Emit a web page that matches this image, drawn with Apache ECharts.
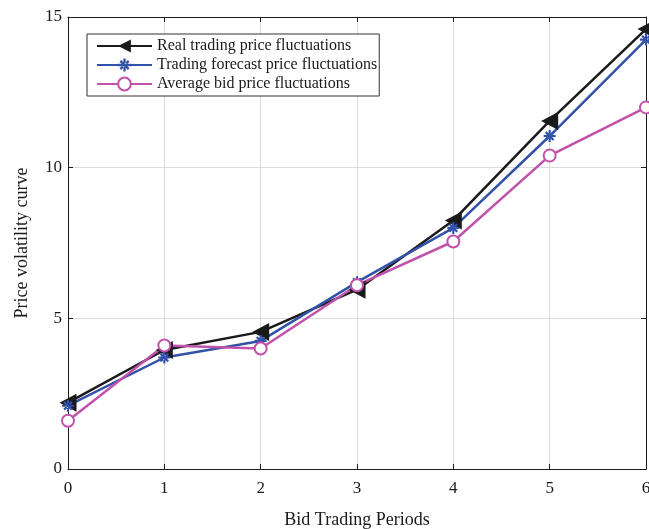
<!DOCTYPE html>
<html>
<head>
<meta charset="utf-8">
<script src="https://cdn.jsdelivr.net/npm/echarts@6/dist/echarts.min.js"></script>
<style>
  html, body { margin: 0; padding: 0; background: #fff; }
  #chart { width: 649px; height: 529px; }
</style>
</head>
<body>
<div id="chart"></div>
<script>
// Bid trading periods on the horizontal axis
const periods = [0, 1, 2, 3, 4, 5, 6];
// Price volatility per period
const realPrice = [2.2, 3.95, 4.55, 5.95, 8.25, 11.55, 14.6];
const forecastPrice = [2.1, 3.7, 4.25, 6.2, 8.0, 11.05, 14.25];
const averageBid = [1.6, 4.1, 4.0, 6.1, 7.55, 10.4, 12.0];
const seriesNames = [
  'Real trading price fluctuations',
  'Trading forecast price fluctuations',
  'Average bid price fluctuations'
];

const FONT = '"Liberation Serif", "DejaVu Serif", serif';
const triangleLeft = 'path://M0,5 L10,0 L10,10 Z';
const asterisk = 'path://M-0.9,-5 L0.9,-5 L0.9,5 L-0.9,5 Z M-5,-0.9 L5,-0.9 L5,0.9 L-5,0.9 Z ' +
  'M-3.9,-2.6 L-2.6,-3.9 L3.9,2.6 L2.6,3.9 Z M3.9,-2.6 L2.6,-3.9 L-3.9,2.6 L-2.6,3.9 Z';

function pairs(vals) { return periods.map((p, i) => [p, vals[i]]); }

const chart = echarts.init(document.getElementById('chart'), null, { renderer: 'canvas' });

const axisCommon = {
  axisLine: { show: true, onZero: false, lineStyle: { color: '#1a1a1a', width: 1 } },
  axisTick: { show: true, inside: true, length: 5, lineStyle: { color: '#1a1a1a' } }
};

chart.setOption({
  animation: false,
  backgroundColor: '#fff',
  grid: { left: 68, right: 3, top: 17, bottom: 60, outerBoundsMode: 'none' },
  legend: {
    left: 87, top: 34,
    orient: 'vertical',
    itemWidth: 55, itemHeight: 16, itemGap: 3,
    padding: [4, 2, 4, 9],
    borderColor: '#333', borderWidth: 1,
    backgroundColor: '#fff',
    textStyle: { fontFamily: FONT, fontSize: 16, color: '#1a1a1a' },
    data: seriesNames
  },
  xAxis: [
    Object.assign({
      type: 'value', min: 0, max: 6, interval: 1,
      name: 'Bid Trading Periods', nameLocation: 'middle', nameGap: 42,
      nameTextStyle: { fontFamily: FONT, fontSize: 18, color: '#1a1a1a' },
      axisLabel: { fontFamily: FONT, fontSize: 17, color: '#1a1a1a', margin: 11 },
      splitLine: { show: true, lineStyle: { color: '#dcdcdc', width: 1 } }
    }, axisCommon),
    Object.assign({
      type: 'value', min: 0, max: 6, interval: 1, position: 'top',
      axisLabel: { show: false }, splitLine: { show: false }
    }, axisCommon)
  ],
  yAxis: [
    Object.assign({
      type: 'value', min: 0, max: 15, interval: 5,
      name: 'Price volatility curve', nameLocation: 'middle', nameGap: 37,
      nameTextStyle: { fontFamily: FONT, fontSize: 18, color: '#1a1a1a' },
      axisLabel: { fontFamily: FONT, fontSize: 17, color: '#1a1a1a', margin: 6 },
      splitLine: { show: true, lineStyle: { color: '#dcdcdc', width: 1 } }
    }, axisCommon),
    Object.assign({
      type: 'value', min: 0, max: 15, interval: 5, position: 'right',
      axisLabel: { show: false }, splitLine: { show: false }
    }, axisCommon)
  ],
  series: [
    {
      name: seriesNames[0], type: 'line', data: pairs(realPrice),
      symbol: triangleLeft, symbolSize: [17, 18], symbolKeepAspect: true,
      lineStyle: { color: '#1a1a1a', width: 2.5 },
      itemStyle: { color: '#1a1a1a', borderWidth: 0 }
    },
    {
      name: seriesNames[1], type: 'line', data: pairs(forecastPrice),
      symbol: asterisk, symbolSize: 12, symbolKeepAspect: true,
      lineStyle: { color: '#3152a8', width: 2.5 },
      itemStyle: { color: '#3152a8', borderWidth: 0 }
    },
    {
      name: seriesNames[2], type: 'line', data: pairs(averageBid),
      symbol: 'circle', symbolSize: 12,
      lineStyle: { color: '#c052ab', width: 2.5 },
      itemStyle: { color: '#ffffff', borderColor: '#c052ab', borderWidth: 2 }
    }
  ]
});
</script>
</body>
</html>
